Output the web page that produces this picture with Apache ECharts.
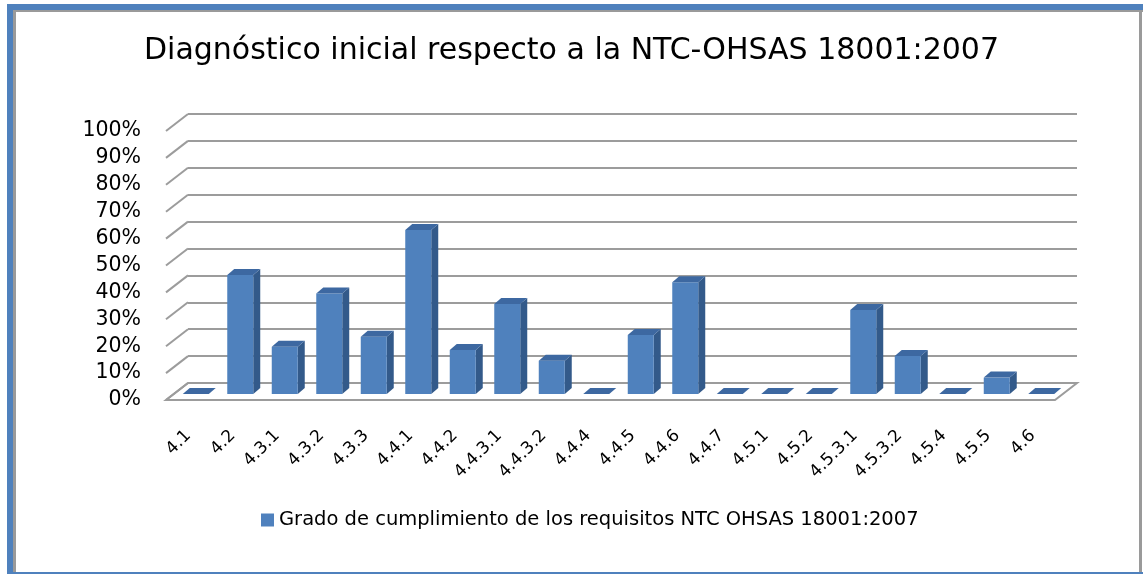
<!DOCTYPE html>
<html>
<head>
<meta charset="utf-8">
<script src="https://cdn.jsdelivr.net/npm/echarts@6/dist/echarts.min.js"></script>
<style>
html,body{margin:0;padding:0;background:#fff;}
#chart{width:1143px;height:574px;}
</style>
</head>
<body>
<div id="chart"></div>
<script>
// ---- data ----
const categories = ['4.1','4.2','4.3.1','4.3.2','4.3.3','4.4.1','4.4.2','4.4.3.1','4.4.3.2','4.4.4','4.4.5','4.4.6','4.4.7','4.5.1','4.5.2','4.5.3.1','4.5.3.2','4.5.4','4.5.5','4.6'];
const values = [0, 0.442, 0.176, 0.374, 0.213, 0.61, 0.164, 0.335, 0.124, 0, 0.219, 0.415, 0, 0, 0, 0.312, 0.141, 0, 0.061, 0];
const yTicks = [0, 0.1, 0.2, 0.3, 0.4, 0.5, 0.6, 0.7, 0.8, 0.9, 1];
const seriesName = 'Grado de cumplimiento de los requisitos NTC OHSAS 18001:2007';
const titleText = 'Diagnóstico inicial respecto a la NTC-OHSAS 18001:2007';

// ---- style ----
const DEPTH_X = 22, DEPTH_Y = -17;       // full floor depth (front -> back wall)
const BAR_DX = 7, BAR_DY = -6;           // bar depth
const FRONT = '#4F81BD', SIDE = '#335A8A', TOP = '#3D68A1';
const GRID_COLOR = '#9c9c9c';

const chart = echarts.init(document.getElementById('chart'), null, {renderer: 'canvas'});

const option = {
  backgroundColor: '#ffffff',
  animation: false,
  title: {
    text: titleText,
    left: 'center',
    top: 31,
    textStyle: {fontFamily: 'DejaVu Sans', fontSize: 30, fontWeight: 'normal', color: '#000'}
  },
  legend: {
    data: [seriesName],
    left: 256,
    top: 505,
    icon: 'rect',
    itemWidth: 13,
    itemHeight: 13,
    itemGap: 4,
    textStyle: {fontFamily: 'DejaVu Sans', fontSize: 19.5, color: '#000'}
  },
  grid: [
    // front plane (axis labels)
    {left: 166, top: 131, width: 889, height: 269},
    // bar plane
    {left: 173.5, top: 125, width: 890, height: 269},
    // back wall plane
    {left: 188, top: 114, width: 889, height: 269}
  ],
  xAxis: [
    {gridIndex: 0, type: 'category', data: categories,
      axisLine: {show: false}, axisTick: {show: false}, splitLine: {show: false},
      axisLabel: {interval: 0, rotate: 45, margin: 33, fontFamily: 'DejaVu Sans', fontSize: 17, color: '#000'}},
    {gridIndex: 1, type: 'category', data: categories, show: false},
    {gridIndex: 2, type: 'value', min: 0, max: 20, show: false}
  ],
  yAxis: [
    {gridIndex: 0, type: 'value', min: 0, max: 1, interval: 0.1,
      axisLine: {show: false}, axisTick: {show: false}, splitLine: {show: false},
      axisLabel: {margin: 25, fontFamily: 'DejaVu Sans', fontSize: 20.5, color: '#000',
        formatter: v => Math.round(v * 100) + '%'}},
    {gridIndex: 1, type: 'value', min: 0, max: 1, interval: 0.1, show: false},
    {gridIndex: 2, type: 'value', min: 0, max: 1, interval: 0.1,
      axisLine: {show: false}, axisTick: {show: false}, axisLabel: {show: false},
      splitLine: {show: true, lineStyle: {color: GRID_COLOR, width: 2}}}
  ],
  series: [
    {
      type: 'custom',
      name: 'walls',
      xAxisIndex: 2, yAxisIndex: 2,
      silent: true,
      z: 1,
      data: yTicks,
      renderItem: function (params, api) {
        const v = api.value(0);
        const pBack = api.coord([0, v]);
        const children = [{
          type: 'line',
          shape: {x1: pBack[0] - DEPTH_X, y1: pBack[1] - DEPTH_Y, x2: pBack[0], y2: pBack[1]},
          style: {stroke: GRID_COLOR, lineWidth: 2}
        }];
        if (v === 0) {
          const pBackR = api.coord([20, 0]);
          children.push({
            type: 'polygon',
            shape: {points: [
              [pBack[0], pBack[1]], [pBackR[0], pBackR[1]],
              [pBackR[0] - DEPTH_X, pBackR[1] - DEPTH_Y], [pBack[0] - DEPTH_X, pBack[1] - DEPTH_Y]
            ]},
            style: {fill: 'rgba(255,255,255,0)', stroke: GRID_COLOR, lineWidth: 2}
          });
        }
        return {type: 'group', children: children};
      },
      legendHoverLink: false
    },
    {
      type: 'custom',
      name: seriesName,
      xAxisIndex: 1, yAxisIndex: 1,
      z: 3,
      itemStyle: {color: FRONT},
      data: values.map((v, i) => [i, v]),
      renderItem: function (params, api) {
        const idx = api.value(0), v = api.value(1);
        const top = api.coord([idx, v]);
        const base = api.coord([idx, 0]);
        const w = api.size([1, 0])[0] * 0.584;
        const xl = top[0] - w / 2, xr = top[0] + w / 2;
        const yt = top[1], yb = base[1];
        const children = [];
        if (v > 0) {
          children.push({
            type: 'polygon',
            shape: {points: [[xr, yt], [xr + BAR_DX, yt + BAR_DY], [xr + BAR_DX, yb + BAR_DY], [xr, yb]]},
            style: {fill: SIDE}
          });
          children.push({
            type: 'rect',
            shape: {x: xl, y: yt, width: w, height: yb - yt},
            style: {fill: FRONT}
          });
        }
        children.push({
          type: 'polygon',
          shape: {points: [[xl, yt], [xl + BAR_DX, yt + BAR_DY], [xr + BAR_DX, yt + BAR_DY], [xr, yt]]},
          style: {fill: TOP}
        });
        return {type: 'group', children: children};
      }
    }
  ],
  graphic: [
    // outer frame: blue band top / left / bottom, gray inner border
    {type: 'rect', shape: {x: 7, y: 4, width: 1136, height: 6}, style: {fill: '#4F81BD'}, z: 100},
    {type: 'rect', shape: {x: 7, y: 4, width: 6, height: 570}, style: {fill: '#4F81BD'}, z: 100},
    {type: 'rect', shape: {x: 7, y: 572, width: 1136, height: 2}, style: {fill: '#4F81BD'}, z: 100},
    {type: 'rect', shape: {x: 13, y: 10, width: 3, height: 562}, style: {fill: '#9a9a9a'}, z: 100},
    {type: 'rect', shape: {x: 13, y: 10, width: 1130, height: 2}, style: {fill: '#9a9a9a'}, z: 100},
    {type: 'rect', shape: {x: 1139, y: 10, width: 3, height: 562}, style: {fill: '#9a9a9a'}, z: 100}
  ]
};
chart.setOption(option);
</script>
</body>
</html>
